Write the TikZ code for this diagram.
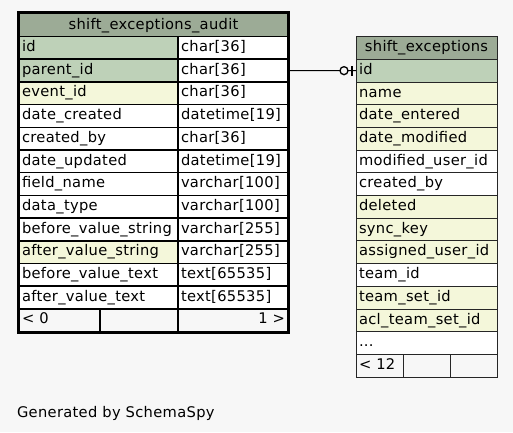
\documentclass[tikz,border=0pt]{standalone}
\usepackage{fontspec}
\setmainfont{DejaVu Sans}[LetterSpace=2.2]
\usetikzlibrary{calc}
\definecolor{bgc}{HTML}{F7F7F7}
\definecolor{hdr}{HTML}{9CAB96}
\definecolor{pkc}{HTML}{BED1B8}
\definecolor{idx}{HTML}{F4F7DA}
\tikzset{
 cellbox/.style={draw=black, inner sep=0pt, outer sep=0pt},
 lcell/.style={cellbox, line width=1.5pt},
 rcell/.style={cellbox, line width=1pt, draw=black!85},
 txt/.style={inner sep=0pt, outer sep=0pt, font=\fontsize{14.67pt}{17pt}\selectfont, text=black},
 conn/.style={draw=black, line width=1pt},
}
% style, name, x, y(top), w, h, fill, text
\newcommand\tcell[8]{%
 \node[#1, fill=#7, minimum width=#5pt, minimum height=#6pt, anchor=north west] (#2) at (#3,#4) {};
 \node[txt, anchor=base west] (#2t) at ({#3+3},{#4+15}) {#8};}
\begin{document}
\begin{tikzpicture}[x=1pt,y=-1pt]
\useasboundingbox[fill=bgc] (0,0) rectangle (513,432);
% ---------- left table: shift_exceptions_audit ----------
\node[lcell, fill=hdr, minimum width=269pt, minimum height=23.5pt, anchor=north west] (lh) at (19,13) {};
\node[txt, anchor=base] (lht) at (153.5,29) {shift\_exceptions\_audit};
\tcell{lcell}{lid}{19}{36.5}{159}{22.7}{pkc}{id}
\tcell{lcell}{lidT}{178}{36.5}{110}{22.7}{white}{char[36]}
\tcell{lcell}{lpid}{19}{59.2}{159}{22.7}{pkc}{parent\_id}
\tcell{lcell}{lpidT}{178}{59.2}{110}{22.7}{white}{char[36]}
\tcell{lcell}{lev}{19}{81.9}{159}{22.7}{idx}{event\_id}
\tcell{lcell}{levT}{178}{81.9}{110}{22.7}{white}{char[36]}
\tcell{lcell}{ldc}{19}{104.6}{159}{22.7}{white}{date\_created}
\tcell{lcell}{ldcT}{178}{104.6}{110}{22.7}{white}{datetime[19]}
\tcell{lcell}{lcb}{19}{127.3}{159}{22.7}{white}{created\_by}
\tcell{lcell}{lcbT}{178}{127.3}{110}{22.7}{white}{char[36]}
\tcell{lcell}{ldu}{19}{150.0}{159}{22.7}{white}{date\_updated}
\tcell{lcell}{lduT}{178}{150.0}{110}{22.7}{white}{datetime[19]}
\tcell{lcell}{lfn}{19}{172.7}{159}{22.7}{white}{field\_name}
\tcell{lcell}{lfnT}{178}{172.7}{110}{22.7}{white}{varchar[100]}
\tcell{lcell}{ldt}{19}{195.4}{159}{22.7}{white}{data\_type}
\tcell{lcell}{ldtT}{178}{195.4}{110}{22.7}{white}{varchar[100]}
\tcell{lcell}{lbvs}{19}{218.1}{159}{22.7}{white}{before\_value\_string}
\tcell{lcell}{lbvsT}{178}{218.1}{110}{22.7}{white}{varchar[255]}
\tcell{lcell}{lavs}{19}{240.8}{159}{22.7}{idx}{after\_value\_string}
\tcell{lcell}{lavsT}{178}{240.8}{110}{22.7}{white}{varchar[255]}
\tcell{lcell}{lbvt}{19}{263.5}{159}{22.7}{white}{before\_value\_text}
\tcell{lcell}{lbvtT}{178}{263.5}{110}{22.7}{white}{text[65535]}
\tcell{lcell}{lavt}{19}{286.2}{159}{22.7}{white}{after\_value\_text}
\tcell{lcell}{lavtT}{178}{286.2}{110}{22.7}{white}{text[65535]}
\tcell{lcell}{lf1}{19}{308.9}{81}{22.7}{bgc}{< 0}
\node[lcell, fill=bgc, minimum width=78pt, minimum height=22.7pt, anchor=north west] (lf2) at (100,308.9) {};
\node[lcell, fill=bgc, minimum width=110pt, minimum height=22.7pt, anchor=north west] (lf3) at (178,308.9) {};
\node[txt, anchor=base east] (lf3t) at (285,323.9) {1 >};
\draw[line width=2.6pt] (18,12.2) rectangle (289,332.3);
% ---------- right table: shift_exceptions ----------
\node[rcell, fill=hdr, minimum width=141pt, minimum height=23.3pt, anchor=north west] (rh) at (356,36) {};
\node[txt, anchor=base] (rht) at (426.5,51.2) {shift\_exceptions};
\tcell{rcell}{sid}{356}{59.3}{141}{22.7}{pkc}{id}
\tcell{rcell}{sname}{356}{82.0}{141}{22.7}{idx}{name}
\tcell{rcell}{sde}{356}{104.7}{141}{22.7}{idx}{date\_entered}
\tcell{rcell}{sdm}{356}{127.4}{141}{22.7}{idx}{date\_modified}
\tcell{rcell}{smu}{356}{150.1}{141}{22.7}{white}{modified\_user\_id}
\tcell{rcell}{scb}{356}{172.8}{141}{22.7}{white}{created\_by}
\tcell{rcell}{sdel}{356}{195.5}{141}{22.7}{idx}{deleted}
\tcell{rcell}{ssk}{356}{218.2}{141}{22.7}{idx}{sync\_key}
\tcell{rcell}{sau}{356}{240.9}{141}{22.7}{idx}{assigned\_user\_id}
\tcell{rcell}{sti}{356}{263.6}{141}{22.7}{white}{team\_id}
\tcell{rcell}{stsi}{356}{286.3}{141}{22.7}{idx}{team\_set\_id}
\tcell{rcell}{sacl}{356}{309.0}{141}{22.7}{idx}{acl\_team\_set\_id}
\tcell{rcell}{smore}{356}{331.7}{141}{22.7}{white}{...}
\tcell{rcell}{sf1}{356}{354.4}{47.3}{22.7}{bgc}{< 12}
\node[rcell, fill=bgc, minimum width=47.4pt, minimum height=22.7pt, anchor=north west] (sf2) at (403.3,354.4) {};
\node[rcell, fill=bgc, minimum width=46.3pt, minimum height=22.7pt, anchor=north west] (sf3) at (450.7,354.4) {};
% ---------- connector ----------
\draw[conn] (lpidT.east) -- (sid.west);
\coordinate (cend) at (sid.west);
\draw[line width=1.3pt, fill=bgc] ($(cend)+(-12,0)$) circle (4);
\fill[black] ($(cend)+(-5.3,-4.8)$) rectangle ($(cend)+(-2.7,4.9)$);
% ---------- footer text ----------
\node[txt, anchor=base west] (gen) at (17,417) {Generated by SchemaSpy};
\end{tikzpicture}
\end{document}
